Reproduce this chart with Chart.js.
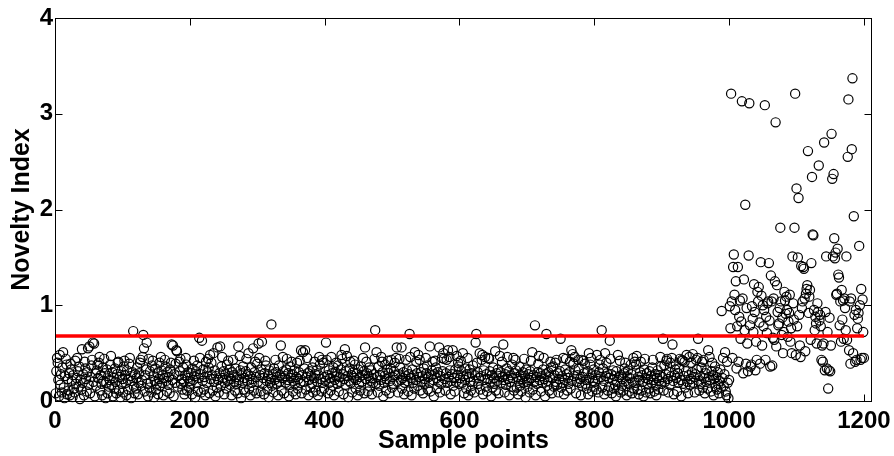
<!DOCTYPE html>
<html>
<head>
<meta charset="utf-8">
<script src="https://cdn.jsdelivr.net/npm/chart.js@4"></script>
<style>html,body{margin:0;padding:0;background:#fff}</style>
</head>
<body>
<canvas id="c" width="894" height="456"></canvas>
<script>
// Novelty index per sample point, samples 1-200, 201-400, ...
const seg1 = [
.08,.31,.45,.40,.22,.05,.48,.17,.28,.09,.35,.51,.14,.03,.26,.44,.38,.07,.23,.11,
.29,.06,.39,.33,.21,.04,.27,.13,.09,.42,.18,.24,.45,.31,.15,.36,.02,.22,.12,.54,
.19,.28,.06,.41,.34,.23,.10,.30,.55,.17,.57,.08,.25,.37,.43,.61,.20,.60,.05,.29,
.16,.32,.38,.24,.40,.46,.11,.27,.18,.06,.35,.21,.44,.29,.03,.19,.33,.08,.26,.15,
.22,.38,.47,.17,.30,.05,.24,.13,.34,.20,.08,.28,.40,.41,.11,.25,.04,.31,.18,.23,
.09,.36,.42,.27,.19,.06,.32,.22,.12,.39,.45,.26,.03,.21,.30,.73,.15,.08,.28,.13,
.24,.35,.07,.19,.29,.40,.43,.16,.22,.46,.69,.55,.10,.27,.33,.61,.18,.05,.44,.14,
.31,.20,.09,.37,.42,.26,.04,.21,.34,.12,.18,.29,.07,.23,.40,.16,.46,.32,.19,.27,
.06,.24,.43,.36,.21,.10,.30,.17,.25,.08,.33,.40,.59,.22,.58,.05,.28,.19,.39,.53,
.52,.15,.26,.41,.31,.44,.18,.23,.12,.35,.20,.07,.27,.45,.38,.11,.24,.30,.14,.21];
const seg2 = [
.18,.29,.07,.34,.22,.42,.26,.04,.31,.19,.37,.10,.24,.66,.45,.28,.09,.63,.21,.33,
.12,.25,.06,.41,.19,.30,.44,.35,.08,.48,.23,.40,.27,.11,.50,.20,.32,.05,.26,.14,
.56,.22,.09,.29,.57,.16,.36,.46,.24,.31,.07,.19,.28,.13,.38,.21,.42,.26,.33,.17,
.23,.06,.30,.43,.27,.20,.11,.34,.18,.25,.08,.57,.22,.47,.32,.03,.29,.19,.36,.12,
.24,.09,.31,.44,.21,.28,.50,.13,.26,.06,.35,.19,.23,.55,.11,.30,.41,.25,.08,.39,
.20,.60,.45,.27,.10,.33,.62,.18,.24,.07,.29,.42,.37,.21,.12,.26,.04,.32,.19,.23,
.80,.16,.28,.09,.34,.22,.43,.30,.18,.25,.06,.37,.20,.27,.58,.11,.24,.46,.31,.08,
.26,.19,.33,.44,.22,.29,.05,.17,.36,.24,.41,.28,.10,.21,.32,.18,.07,.25,.40,.13,
.23,.30,.42,.19,.53,.08,.27,.51,.20,.34,.53,.12,.25,.45,.29,.06,.22,.31,.14,.26,
.18,.35,.09,.24,.41,.28,.11,.32,.20,.06,.27,.46,.38,.23,.10,.43,.19,.40,.13,.25];
const seg3 = [
.21,.61,.43,.27,.08,.32,.19,.24,.11,.46,.29,.16,.35,.06,.22,.30,.40,.26,.18,.37,
.10,.25,.20,.33,.48,.44,.28,.07,.23,.54,.17,.31,.47,.26,.04,.21,.34,.41,.19,.27,
.09,.30,.42,.24,.38,.13,.22,.29,.06,.33,.18,.25,.11,.36,.20,.27,.45,.31,.08,.56,
.23,.41,.29,.10,.26,.35,.15,.21,.32,.07,.24,.19,.28,.44,.74,.18,.51,.25,.09,.36,
.16,.27,.22,.46,.41,.30,.05,.19,.26,.38,.11,.23,.33,.42,.29,.08,.21,.34,.43,.14,
.25,.18,.31,.40,.27,.45,.56,.20,.09,.28,.44,.35,.22,.56,.13,.24,.30,.07,.19,.26,
.43,.32,.21,.10,.28,.70,.46,.24,.06,.33,.19,.27,.13,.51,.22,.41,.29,.16,.48,.25,
.43,.11,.30,.20,.26,.08,.34,.18,.23,.45,.29,.37,.12,.25,.19,.57,.10,.27,.32,.41,
.22,.05,.28,.42,.35,.24,.13,.30,.20,.56,.09,.26,.18,.45,.31,.50,.44,.23,.11,.29,
.43,.19,.53,.25,.46,.32,.07,.21,.28,.53,.16,.24,.10,.33,.20,.47,.27,.40,.36,.18];
const seg4 = [
.24,.42,.31,.19,.50,.26,.08,.22,.34,.13,.28,.45,.06,.25,.33,.20,.11,.29,.16,.37,
.21,.09,.27,.61,.70,.40,.30,.18,.24,.50,.12,.26,.43,.48,.07,.32,.22,.46,.15,.28,
.10,.23,.45,.44,.31,.20,.05,.27,.14,.35,.24,.18,.52,.11,.29,.21,.33,.08,.26,.47,
.30,.19,.41,.25,.59,.22,.09,.28,.17,.34,.46,.23,.31,.06,.20,.27,.15,.38,.24,.45,
.11,.29,.43,.32,.14,.25,.07,.21,.36,.16,.27,.10,.23,.30,.19,.44,.26,.04,.33,.20,
.15,.28,.22,.09,.31,.42,.24,.51,.12,.27,.20,.79,.06,.25,.18,.30,.39,.47,.22,.29,
.10,.26,.19,.33,.45,.23,.05,.28,.70,.16,.21,.30,.11,.25,.41,.35,.08,.24,.36,.15,
.27,.40,.20,.43,.17,.29,.09,.23,.31,.65,.14,.26,.19,.45,.07,.22,.33,.44,.28,.11,
.24,.18,.30,.41,.13,.53,.21,.49,.39,.26,.46,.32,.08,.20,.27,.43,.34,.19,.23,.06,
.43,.16,.25,.42,.29,.39,.18,.22,.13,.31,.07,.50,.24,.38,.45,.28,.10,.21,.33,.15];
const seg5 = [
.20,.27,.12,.48,.23,.09,.30,.38,.43,.25,.74,.14,.34,.21,.07,.50,.26,.40,.29,.11,
.24,.15,.63,.44,.28,.08,.22,.32,.13,.26,.17,.05,.31,.20,.48,.12,.25,.42,.09,.27,
.16,.23,.11,.29,.34,.40,.21,.06,.26,.32,.18,.10,.24,.38,.28,.08,.20,.45,.13,.41,
.19,.38,.47,.12,.25,.07,.22,.30,.41,.11,.27,.20,.05,.33,.44,.24,.09,.29,.18,.23,
.13,.31,.08,.26,.19,.35,.43,.22,.10,.28,.17,.06,.24,.32,.12,.21,.27,.46,.36,.18,
.25,.65,.11,.37,.20,.28,.42,.44,.23,.09,.30,.17,.40,.26,.45,.59,.21,.07,.27,.33,
.38,.24,.10,.29,.19,.34,.44,.22,.05,.43,.42,.18,.26,.41,.14,.31,.48,.20,.08,.27,
.46,.17,.23,.40,.30,.49,.19,.25,.09,.28,.43,.33,.45,.65,.21,.11,.26,.18,.35,.41,
.14,.43,.24,.08,.29,.20,.32,.13,.53,.25,.46,.22,.10,.31,.40,.27,.06,.23,.36,.15,
.25,.12,.30,.18,.08,.21,.33,.14,.94,.24,.45,.16,.28,.51,.10,.06,.41,.19,.03,.22];
const seg6 = [
.99,.76,3.21,1.04,.45,1.40,1.53,1.11,.95,1.25,.34,.78,1.40,.41,.88,1.05,.65,.83,3.13,1.07,
.29,1.27,.74,2.05,.39,.97,.60,.31,1.52,3.11,.79,.36,.38,.99,.86,.72,1.22,.93,.32,.62,
.43,1.14,1.04,1.19,.82,.39,1.45,1.10,.58,1.00,.78,.95,3.09,.43,.88,.71,1.02,1.04,1.44,.84,
.36,1.31,1.04,.37,.66,1.07,.64,1.25,2.91,.57,1.21,.93,.79,.81,.97,1.81,1.04,.69,.87,.50,
.72,1.14,1.05,.91,1.09,.95,.67,.83,.92,1.11,.62,.76,.50,1.51,1.02,.85,1.81,3.21,.48,2.22,
.78,1.50,2.12,.90,.58,.46,1.41,.97,1.04,1.40,1.38,1.07,.52,1.12,1.17,1.21,2.61,.92,1.09,1.16,
.64,1.44,2.34,1.74,1.73,.95,.74,.88,.81,.60,1.02,.93,2.46,.84,.90,.78,.43,.58,.41,.60,
2.70,.32,.93,1.51,.34,.72,.13,.32,.87,.31,.58,2.79,2.32,1.51,2.37,1.70,1.49,1.55,1.11,1.12,
1.59,1.32,1.29,.79,1.04,.62,1.16,.85,1.05,.65,1.07,.97,.74,1.51,.64,2.55,3.15,.53,1.04,.39,
1.07,2.63,3.37,.50,1.93,.90,.41,.95,.43,.76,.86,.92,1.62,1.00,.43,1.17,.45,1.06,.72,.45];

const thresholdValue = 0.68;
const thresholdRange = [1, 1200];
const xTickValues = [0, 200, 400, 600, 800, 1000, 1200];
const yTickValues = [0, 1, 2, 3, 4];
const xTitle = 'Sample points';
const yTitle = 'Novelty Index';

const noveltyValues = seg1.concat(seg2, seg3, seg4, seg5, seg6);
const samplePoints = noveltyValues.map((v, i) => ({x: i + 1, y: v}));
const thresholdPoints = thresholdRange.map(x => ({x: x, y: thresholdValue}));

const FONT = "'Liberation Sans', Arial, Helvetica, sans-serif";

const framePlugin = {
  id: 'frame',
  afterDraw(chart) {
    const {ctx, chartArea: a, scales} = chart;
    const xs = scales.x, ys = scales.y;
    ctx.save();
    ctx.strokeStyle = '#000';
    ctx.lineWidth = 1;
    const L = Math.round(a.left) + 0.5, R = Math.round(a.right) - 0.5;
    const T = Math.round(a.top) + 0.5, B = Math.round(a.bottom) + 0.5;
    ctx.strokeRect(L, T, R - L, B - T);
    const len = 7;
    ctx.beginPath();
    xs.ticks.forEach(t => {
      const px = Math.round(xs.getPixelForValue(t.value)) + 0.5;
      ctx.moveTo(px, B); ctx.lineTo(px, B - len);
      ctx.moveTo(px, T); ctx.lineTo(px, T + len);
    });
    ys.ticks.forEach(t => {
      const py = Math.round(ys.getPixelForValue(t.value)) + 0.5;
      ctx.moveTo(L, py); ctx.lineTo(L + len, py);
      ctx.moveTo(R, py); ctx.lineTo(R - len, py);
    });
    ctx.stroke();
    ctx.restore();
  }
};

new Chart(document.getElementById('c'), {
  type: 'scatter',
  data: {
    datasets: [
      {
        label: 'threshold',
        data: thresholdPoints,
        showLine: true,
        borderColor: '#ff0000',
        borderWidth: 3.5,
        pointRadius: 0,
        order: 0
      },
      {
        label: yTitle,
        data: samplePoints,
        pointStyle: 'circle',
        pointRadius: 4.6,
        pointBorderWidth: 1.2,
        borderColor: '#000',
        pointBorderColor: '#000',
        backgroundColor: 'rgba(0,0,0,0)',
        pointBackgroundColor: 'rgba(0,0,0,0)',
        order: 1,
        clip: false
      }
    ]
  },
  options: {
    responsive: false,
    animation: false,
    devicePixelRatio: 1,
    events: [],
    layout: {padding: {left: 0, right: 22, top: 18, bottom: 0}},
    plugins: {legend: {display: false}, tooltip: {enabled: false}},
    scales: {
      x: {
        type: 'linear',
        min: 0,
        max: 1212,
        afterBuildTicks: s => { s.ticks = xTickValues.map(v => ({value: v})); },
        afterFit: s => { s.height = 55; s.paddingLeft = 0; s.paddingRight = 0; },
        grid: {display: false, drawTicks: false},
        border: {display: false},
        ticks: {color: '#000', padding: 6, maxRotation: 0, autoSkip: false,
                callback: v => String(v),
                font: {family: FONT, weight: 'bold', size: 24}},
        title: {display: true, text: xTitle, color: '#000', padding: {top: 0, bottom: 0},
                font: {family: FONT, weight: 'bold', size: 25}}
      },
      y: {
        type: 'linear',
        min: 0,
        max: 4,
        afterBuildTicks: s => { s.ticks = yTickValues.map(v => ({value: v})); },
        afterFit: s => { s.width = 55; s.paddingTop = 0; s.paddingBottom = 0; },
        grid: {display: false, drawTicks: false},
        border: {display: false},
        ticks: {color: '#000', padding: 2, callback: v => String(v),
                font: {family: FONT, weight: 'bold', size: 24}},
        title: {display: true, text: yTitle, color: '#000', padding: {top: 7, bottom: 0},
                font: {family: FONT, weight: 'bold', size: 25}}
      }
    }
  },
  plugins: [framePlugin]
});
</script>
</body>
</html>
